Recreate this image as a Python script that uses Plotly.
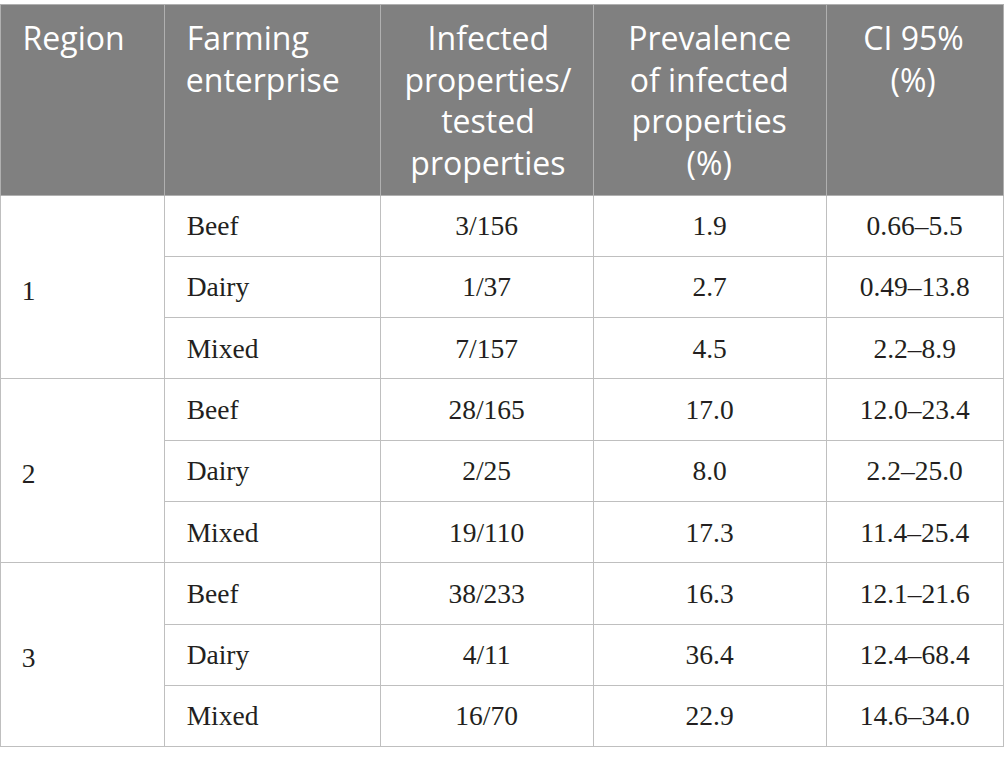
import plotly.graph_objects as go

W, H = 1004, 766

# table content
regions = ["1", "2", "3"]
enterprise = ["Beef", "Dairy", "Mixed"] * 3
infected_tested = ["3/156", "1/37", "7/157", "28/165", "2/25", "19/110",
                   "38/233", "4/11", "16/70"]
prevalence = ["1.9", "2.7", "4.5", "17.0", "8.0", "17.3", "16.3", "36.4", "22.9"]
ci95 = ["0.66–5.5", "0.49–13.8", "2.2–8.9", "12.0–23.4", "2.2–25.0",
        "11.4–25.4", "12.1–21.6", "12.4–68.4", "14.6–34.0"]

headers = [["Region"], ["Farming", "enterprise"],
           ["Infected", "properties/", "tested", "properties"],
           ["Prevalence", "of infected", "properties", "(%)"],
           ["CI 95%", "(%)"]]

col_widths = [164, 216, 213, 233, 177]
head_h = 191
row_h = 61.3

head_size = 32
cell_size = 27.5
head_font = dict(family="Open Sans", size=head_size, color="white")
cell_font = dict(family="Liberation Serif", size=cell_size, color="#231f20")
head_fill = "#808080"
head_line = "#b0b0b0"
cell_line = "#bfbfbf"

NBSP = "\u00a0"
THIN = "\u2009"
# plotly puts the top of the text box at the cell padding; a taller blank in
# front of the text lowers the baseline to where the reference has it
head_strut = 35.5
cell_strut = 36
OPEN_SANS_SPACE = 0.26  # space width in em


def strut(size):
    return '<span style="font-size:%.1fpx">%s</span>' % (size, NBSP)


def lines_of(parts):
    # a <br> in every value stops the table from re-wrapping the markup
    return "<br>".join(parts) + ("<br>" if len(parts) == 1 else "")


def head_left(lines):
    parts = [strut(head_strut) + THIN + lines[0]] + [NBSP + THIN + ln for ln in lines[1:]]
    return lines_of(parts)


def head_center(lines, width):
    # each line is anchored at its middle; the run of blanks in front puts the
    # middle of the visible words at the middle of the column
    target = width - 16
    s = OPEN_SANS_SPACE * head_size
    parts = []
    for i, ln in enumerate(lines):
        if i == 0:
            n = round((target - OPEN_SANS_SPACE * head_strut) / s)
            lead = strut(head_strut) + NBSP * n
        else:
            lead = NBSP * round(target / s)
        parts.append('<span style="text-anchor:middle">%s%s</span>' % (lead, ln))
    return lines_of(parts)


def body_left(values):
    return [lines_of([strut(cell_strut) + THIN + v]) for v in values]


def body_center(values):
    return [lines_of([strut(cell_strut) + v + strut(cell_strut)]) for v in values]


def region_cells(values):
    # two blank lines above the number put it in the middle of the merged cell
    return [lines_of([NBSP, NBSP, NBSP + NBSP + v]) for v in values]


split = col_widths[0] / sum(col_widths)

fig = go.Figure()

# merged region column as its own table (one tall row per region)
fig.add_trace(go.Table(
    domain=dict(x=[0, split], y=[0, 1]),
    columnwidth=[col_widths[0]],
    header=dict(values=[head_left(headers[0])], height=head_h, align="left",
                fill_color=head_fill, line_color=head_line, font=head_font),
    cells=dict(values=[region_cells(regions)],
               height=row_h * 3, align="left", fill_color="white",
               line_color=cell_line, font=cell_font),
))

fig.add_trace(go.Table(
    domain=dict(x=[split, 1], y=[0, 1]),
    columnwidth=col_widths[1:],
    header=dict(values=[head_left(headers[1])] +
                       [head_center(h, w) for h, w in zip(headers[2:], col_widths[2:])],
                height=head_h, align="left",
                fill_color=head_fill, line_color=head_line, font=head_font),
    cells=dict(values=[body_left(enterprise), body_center(infected_tested),
                       body_center(prevalence), body_center(ci95)],
               height=row_h, align=["left", "center", "center", "center"],
               fill_color="white", line_color=cell_line, font=cell_font),
))

fig.update_layout(width=W, height=H, margin=dict(l=0, r=0, t=4, b=0),
                  paper_bgcolor="white")

fig.write_html("out.html", config={"displayModeBar": False},
               post_script="document.body.style.margin='0';")
